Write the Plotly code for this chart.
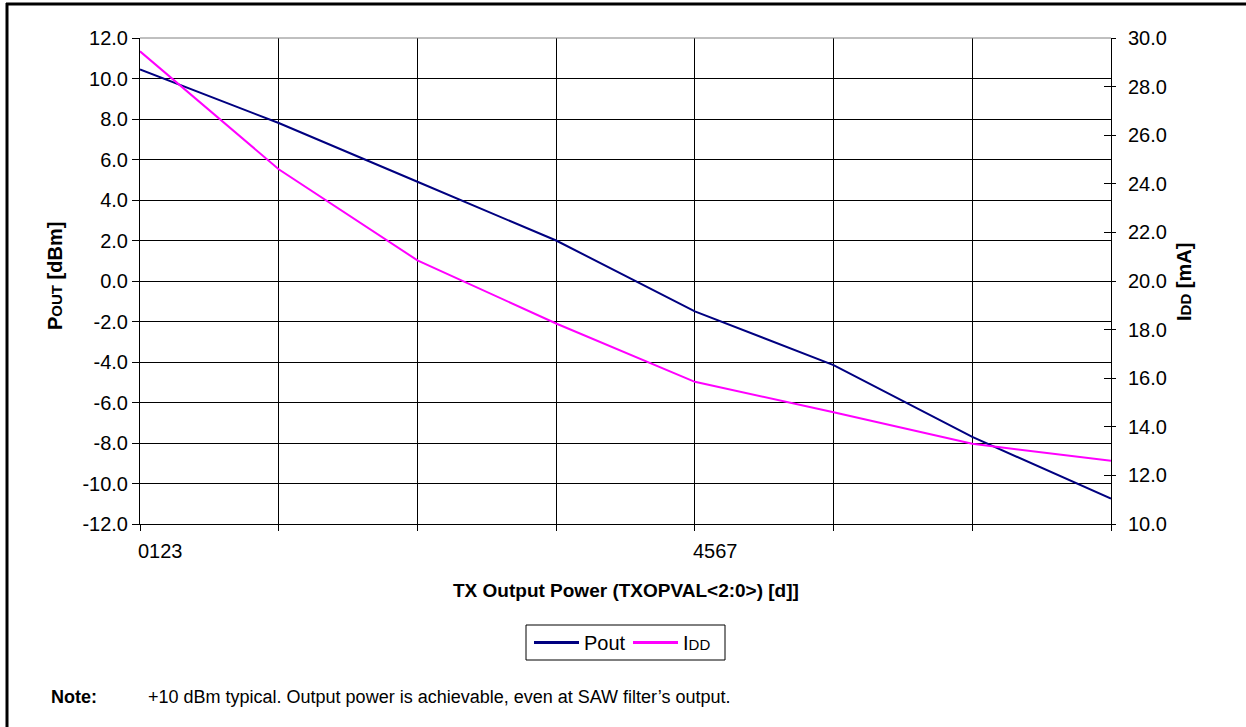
import plotly.graph_objects as go

# TX output power setting (TXOPVAL<2:0>) and measured results
setting = [0, 1, 2, 3, 4, 5, 6, 7]
pout_dbm = [10.45, 7.8, 4.9, 2.0, -1.5, -4.15, -7.7, -10.75]
idd_ma = [29.45, 24.6, 20.85, 18.25, 15.85, 14.6, 13.3, 12.6]
x_tick_pos = [0, 4]
x_tick_text = ["0123", "4567"]
pout_ticks = list(range(-12, 13, 2))
idd_ticks = list(range(10, 31, 2))

W, H = 1246, 727
L, R, T, B = 140, 1246 - 1111, 38, 727 - 524
PW, PH = W - L - R, H - T - B

FONT = "Liberation Sans, Arial, sans-serif"
TICK_SIZE = 20
TITLE_SIZE = 20
POUT_COLOR = "#000080"
IDD_COLOR = "#FF00FF"


def px(x):
    return (x - L) / PW


def py(y):
    return (H - B - y) / PH


def fmt(v):
    # plain hyphen for negative numbers
    return f"{v:.1f}".replace("\u2212", "-")


fig = go.Figure()
fig.add_trace(go.Scatter(
    x=setting, y=pout_dbm, name="Pout", mode="lines",
    line=dict(color=POUT_COLOR, width=2), yaxis="y", showlegend=False))
fig.add_trace(go.Scatter(
    x=setting, y=idd_ma, name="IDD", mode="lines",
    line=dict(color=IDD_COLOR, width=2), yaxis="y2", showlegend=False))
# carrier for the inner half of the right-hand tick marks
fig.add_trace(go.Scatter(x=[None], y=[None], yaxis="y3", showlegend=False,
                         hoverinfo="skip"))

annotations = []
for pos, txt in zip(x_tick_pos, x_tick_text):
    annotations.append(dict(
        x=pos, xref="x", y=py(551), yref="paper", text=txt, showarrow=False,
        xanchor="left", xshift=-4, yanchor="middle",
        font=dict(family=FONT, size=TICK_SIZE, color="black")))

annotations += [
    dict(x=px(626), y=py(590), xref="paper", yref="paper",
         text="<b>TX Output Power (TXOPVAL&lt;2:0&gt;) [d]]</b>", showarrow=False,
         xanchor="center", yanchor="middle",
         font=dict(family=FONT, size=19, color="black")),
    dict(x=px(55), y=py(276), xref="paper", yref="paper", textangle=-90,
         text="<b>P<span style='font-size:15px'>OUT</span> [dBm]</b>", showarrow=False,
         xanchor="center", yanchor="middle",
         font=dict(family=FONT, size=TITLE_SIZE, color="black")),
    dict(x=px(1184), y=py(282), xref="paper", yref="paper", textangle=-90,
         text="<b>I<span style='font-size:15px'>DD</span> [mA]</b>", showarrow=False,
         xanchor="center", yanchor="middle",
         font=dict(family=FONT, size=TITLE_SIZE, color="black")),
    dict(x=px(49), y=py(697), xref="paper", yref="paper",
         text="<b>Note:</b>", showarrow=False, xanchor="left", yanchor="middle",
         font=dict(family=FONT, size=18, color="black")),
    dict(x=px(146), y=py(697), xref="paper", yref="paper",
         text="+10 dBm typical. Output power is achievable, even at SAW filter\u2019s output.",
         showarrow=False, xanchor="left", yanchor="middle",
         font=dict(family=FONT, size=18, color="black")),
]

# legend drawn as a framed box with line samples
LEG_X0, LEG_X1, LEG_Y0, LEG_Y1 = 526, 725, 625, 660
LEG_YC = (LEG_Y0 + LEG_Y1) / 2
legend_items = [
    ("Pout", POUT_COLOR, 534, 579),
    ("I<span style='font-size:15px'>DD</span>", IDD_COLOR, 633, 678),
]

shapes = [
    # top edge of the plot area
    dict(type="line", xref="paper", yref="paper", x0=0, x1=1, y0=1, y1=1,
         line=dict(color="#808080", width=1)),
    # outer frame (top and left edges)
    dict(type="line", xref="paper", yref="paper", x0=px(6), x1=px(1250),
         y0=py(4), y1=py(4), line=dict(color="black", width=3)),
    dict(type="line", xref="paper", yref="paper", x0=px(7), x1=px(7),
         y0=py(3), y1=py(730), line=dict(color="black", width=3)),
    dict(type="rect", xref="paper", yref="paper", x0=px(LEG_X0), x1=px(LEG_X1),
         y0=py(LEG_Y1), y1=py(LEG_Y0), line=dict(color="black", width=1),
         fillcolor="white"),
]
for label, color, lx0, lx1 in legend_items:
    shapes.append(dict(type="line", xref="paper", yref="paper",
                       x0=px(lx0), x1=px(lx1), y0=py(LEG_YC), y1=py(LEG_YC),
                       line=dict(color=color, width=3)))
    annotations.append(dict(x=px(lx1 + 3), y=py(LEG_YC), xref="paper",
                            yref="paper", text=label, showarrow=False,
                            xanchor="left", yanchor="middle",
                            font=dict(family=FONT, size=TICK_SIZE, color="black")))

fig.update_layout(
    width=W, height=H,
    margin=dict(l=L, r=R, t=T, b=B),
    paper_bgcolor="white", plot_bgcolor="white",
    font=dict(family=FONT, size=TICK_SIZE, color="black"),
    showlegend=False,
    xaxis=dict(range=[0, 7], dtick=1, tick0=0, showticklabels=False,
               ticks="outside", ticklen=6, tickcolor="black", tickwidth=1,
               showgrid=True, gridcolor="black", gridwidth=1,
               showline=True, linecolor="black", linewidth=1, zeroline=False),
    yaxis=dict(range=[-12, 12], tickvals=pout_ticks,
               ticktext=[fmt(v) for v in pout_ticks],
               ticks="outside", ticklen=7, tickcolor="black", tickwidth=1,
               showgrid=True, gridcolor="black", gridwidth=1,
               showline=True, linecolor="black", linewidth=1, zeroline=False,
               tickfont=dict(family=FONT, size=TICK_SIZE, color="black")),
    yaxis2=dict(range=[10, 30], tickvals=idd_ticks,
                ticktext=[fmt(v) for v in idd_ticks],
                overlaying="y", side="right", anchor="x",
                ticks="outside", ticklen=4, tickcolor="black", tickwidth=1,
                ticklabelstandoff=8,
                showgrid=False, showline=True, linecolor="black", linewidth=1,
                zeroline=False,
                tickfont=dict(family=FONT, size=TICK_SIZE, color="black")),
    yaxis3=dict(range=[10, 30], tickvals=idd_ticks, overlaying="y", side="right",
                anchor="x", ticks="inside", ticklen=7, tickcolor="black",
                tickwidth=1, showticklabels=False, showgrid=False,
                showline=False, zeroline=False),
    annotations=annotations,
    shapes=shapes,
)

fig.write_html("out.html")
